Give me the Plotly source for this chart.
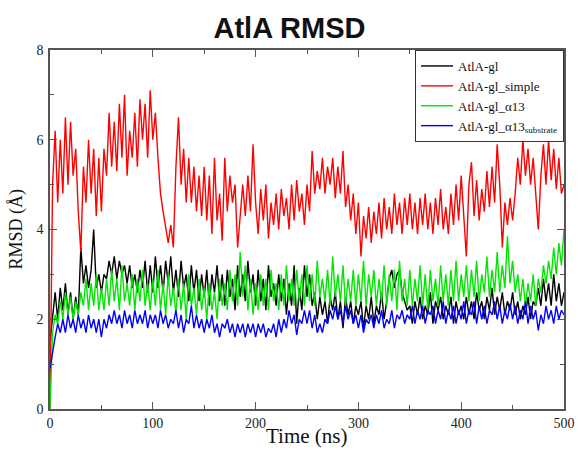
import plotly.graph_objects as go

time_ns = [i * 2.5 for i in range(201)]

rmsd_gl = [
    1.5, 2.1, 2.6, 2.0, 2.7, 2.2, 2.8, 2.1, 2.6, 2.0, 2.5, 2.1, 3.6, 2.8, 3.2, 2.7, 3.1, 4.0, 2.7, 3.0,
    2.6, 3.0, 2.9, 3.3, 3.0, 3.4, 2.9, 3.3, 3.0, 3.2, 2.8, 3.2, 2.7, 3.0, 2.6, 3.1, 2.7, 3.3, 2.6, 3.2,
    2.6, 3.4, 2.7, 3.2, 2.6, 3.3, 2.8, 3.4, 2.6, 3.1, 2.5, 3.3, 2.7, 3.0, 2.4, 3.2, 2.6, 3.1, 2.4, 3.0,
    2.5, 3.1, 2.3, 3.0, 2.6, 3.2, 2.4, 3.0, 2.3, 3.1, 2.5, 2.9, 2.2, 3.2, 2.5, 3.0, 2.4, 3.3, 2.6, 3.0,
    2.3, 3.1, 2.4, 2.9, 2.2, 3.2, 2.5, 2.8, 2.3, 3.0, 2.4, 2.9, 2.1, 2.8, 2.3, 3.2, 1.9, 2.7, 2.2, 3.2,
    2.5, 3.0, 2.3, 2.6, 2.0, 2.5, 2.1, 2.4, 1.9, 2.5, 2.2, 2.6, 2.0, 2.4, 1.8, 2.5, 2.1, 2.4, 1.9, 2.3,
    2.1, 2.4, 1.8, 2.3, 2.0, 2.5, 1.9, 2.3, 2.1, 2.6, 2.0, 2.4, 2.9, 3.1, 2.7, 3.0, 3.1, 2.6, 2.4, 2.2,
    2.3, 1.9, 2.4, 2.1, 2.5, 2.0, 2.3, 2.1, 2.6, 1.9, 2.4, 2.2, 2.5, 2.0, 2.3, 2.1, 2.5, 1.9, 2.4, 2.1,
    2.3, 2.0, 2.5, 2.1, 2.4, 2.0, 2.6, 2.2, 2.4, 2.0, 2.5, 2.2, 2.7, 2.1, 2.5, 2.2, 2.6, 2.1, 2.4, 2.2,
    2.6, 2.1, 2.4, 2.0, 2.3, 2.1, 2.5, 2.0, 2.4, 2.3, 2.7, 2.3, 2.9, 2.4, 2.8, 2.3, 3.0, 2.4, 2.8, 2.3, 2.6,
]

rmsd_gl_simple = [
    0.0, 5.0, 6.2, 4.6, 6.0, 4.8, 6.5, 5.0, 6.4, 5.2, 5.8, 4.4, 3.5, 5.4, 4.6, 6.0, 4.8, 5.8, 4.3, 5.6,
    4.4, 5.8, 5.2, 6.6, 5.4, 6.4, 5.3, 6.8, 5.6, 7.0, 5.2, 6.2, 5.6, 6.6, 5.4, 6.9, 6.0, 6.8, 5.6, 7.1,
    6.0, 6.6, 5.6, 4.8, 4.4, 4.0, 3.7, 4.1, 3.6, 5.4, 6.5, 5.0, 5.8, 4.6, 5.6, 4.6, 5.4, 4.4, 5.2, 4.3,
    5.4, 4.2, 5.2, 3.9, 5.6, 4.2, 4.8, 3.75, 5.6, 4.4, 5.2, 4.6, 5.0, 3.6, 4.4, 5.0, 4.3, 5.2, 4.4, 5.9,
    4.6, 3.9, 4.9, 4.2, 5.0, 3.8, 4.6, 4.1, 4.8, 4.0, 4.9, 4.3, 4.7, 4.0, 5.0, 4.2, 5.1, 4.4, 4.8, 4.1,
    5.0, 4.4, 5.75, 4.8, 5.3, 4.9, 5.6, 4.8, 5.4, 5.0, 5.6, 4.7, 5.4, 4.8, 5.75, 4.5, 5.0, 4.2, 4.8, 3.9,
    4.6, 3.4, 4.3, 3.8, 4.5, 3.7, 4.4, 3.9, 4.6, 3.8, 4.7, 4.0, 4.5, 3.9, 4.8, 4.1, 4.6, 3.9, 4.7, 4.1,
    4.8, 4.0, 4.6, 3.9, 4.7, 4.1, 4.8, 4.0, 4.6, 3.9, 4.7, 4.1, 4.9, 4.0, 4.5, 3.9, 4.8, 4.1, 5.0, 4.2,
    5.2, 4.4, 3.4, 5.0, 5.5, 4.3, 5.1, 4.2, 4.9, 4.4, 5.3, 4.5, 5.4, 4.6, 5.9, 5.0, 3.6, 4.6, 4.1, 4.7,
    4.2, 4.8, 5.6, 5.0, 6.0, 5.2, 5.8, 5.0, 5.6, 4.8, 4.0, 5.2, 5.9, 5.0, 6.0, 5.1, 5.8, 4.9, 5.6, 4.8, 5.0,
]

rmsd_gl_a13 = [
    0.0, 1.7, 2.1, 1.9, 2.4, 2.0, 2.6, 2.1, 2.5, 2.0, 2.4, 2.1, 2.6, 2.3, 2.9, 2.2, 2.8, 2.3, 3.0, 2.2,
    2.7, 2.2, 2.9, 2.3, 3.1, 2.4, 2.9, 2.2, 3.2, 2.4, 2.8, 2.3, 3.0, 2.2, 2.9, 2.4, 3.1, 2.3, 2.8, 2.2,
    2.9, 2.3, 3.1, 2.2, 2.8, 2.1, 3.0, 2.3, 2.7, 2.1, 2.9, 2.2, 2.8, 2.0, 3.0, 2.3, 2.7, 2.1, 2.9, 2.2,
    2.7, 2.0, 2.8, 2.2, 2.6, 2.0, 2.9, 2.3, 2.8, 2.2, 3.1, 2.4, 3.0, 2.3, 3.5, 2.5, 3.2, 2.2, 2.9, 2.1,
    2.8, 2.2, 3.0, 2.3, 2.9, 2.2, 3.1, 2.4, 2.8, 2.2, 3.0, 2.3, 3.2, 2.4, 2.9, 2.3, 3.1, 2.4, 3.0, 2.3,
    3.2, 2.4, 3.0, 2.3, 3.3, 2.5, 2.9, 2.4, 3.1, 2.3, 3.4, 2.5, 3.0, 2.4, 3.2, 2.3, 2.9, 2.4, 3.1, 2.3,
    3.0, 2.4, 3.3, 2.3, 3.0, 2.5, 3.1, 2.3, 2.9, 2.4, 3.2, 2.3, 3.0, 2.4, 3.1, 2.2, 3.3, 2.4, 2.9, 2.3,
    3.1, 2.3, 2.9, 2.4, 3.2, 2.3, 3.0, 2.2, 3.1, 2.4, 2.9, 2.3, 3.2, 2.4, 3.0, 2.3, 3.1, 2.4, 3.3, 2.4,
    3.0, 2.5, 3.2, 2.4, 3.1, 2.5, 3.3, 2.4, 3.0, 2.6, 3.4, 2.5, 3.1, 2.6, 3.5, 2.6, 3.2, 2.7, 3.85, 2.8,
    3.3, 2.6, 3.0, 2.4, 2.9, 2.3, 2.8, 2.4, 3.0, 2.3, 2.9, 2.6, 3.2, 2.8, 3.3, 2.9, 3.6, 3.0, 3.7, 3.2, 4.0,
]

rmsd_gl_a13_substrate = [
    0.9, 1.3, 1.6, 1.9, 1.7, 2.0, 1.7, 2.1, 1.8, 2.0, 1.7, 2.1, 1.8, 2.0, 1.7, 2.1, 1.8, 2.0, 1.7, 2.0,
    1.6, 2.0, 1.8, 2.1, 1.9, 2.2, 1.9, 2.1, 1.8, 2.2, 1.9, 2.1, 1.8, 2.2, 1.9, 2.1, 1.9, 2.2, 1.8, 2.1,
    1.9, 2.1, 1.8, 2.2, 1.9, 2.1, 1.8, 2.0, 1.9, 2.2, 1.8, 2.1, 1.7, 2.0, 1.9, 2.3, 1.8, 2.1, 1.8, 2.0,
    1.7, 2.0, 1.8, 2.1, 1.7, 1.9, 1.6, 1.9, 1.8, 2.0, 1.7, 1.9, 1.6, 1.9, 1.7, 1.9, 1.6, 1.9, 1.7, 1.9,
    1.6, 1.9, 1.7, 1.9, 1.6, 1.8, 1.7, 1.9, 1.6, 2.0, 1.7, 2.0, 1.8, 2.2, 1.9, 2.1, 1.65, 2.0, 1.9, 2.2,
    1.9, 2.2, 1.8, 2.1, 1.7, 1.9, 1.7, 2.0, 1.9, 2.2, 2.0, 2.3, 2.0, 2.2, 1.9, 2.3, 2.0, 2.2, 1.9, 2.1,
    1.8, 2.1, 1.7, 2.0, 1.9, 2.1, 1.8, 2.1, 1.9, 2.2, 1.8, 2.0, 1.9, 2.2, 1.8, 2.1, 2.0, 2.2, 1.9, 2.1,
    2.0, 2.3, 1.9, 2.2, 2.0, 2.3, 1.9, 2.2, 2.1, 2.3, 1.9, 2.2, 2.0, 2.4, 1.9, 2.2, 2.0, 2.3, 1.9, 2.2,
    2.0, 2.4, 1.9, 2.2, 2.1, 2.4, 1.9, 2.3, 2.0, 2.3, 1.9, 2.2, 2.1, 2.4, 2.0, 2.3, 1.9, 2.2, 2.0, 2.35,
    2.0, 2.3, 1.9, 2.2, 2.0, 2.4, 1.9, 2.3, 2.0, 2.2, 1.75, 2.1, 1.9, 2.3, 2.0, 2.2, 1.9, 2.3, 2.0, 2.2, 2.1,
]

series_names = ["AtlA-gl", "AtlA-gl_simple", "AtlA-gl_α13", "AtlA-gl_α13<sub>substrate</sub>"]
series_values = [rmsd_gl, rmsd_gl_simple, rmsd_gl_a13, rmsd_gl_a13_substrate]
series_colors = ["#000000", "#ff0000", "#00e600", "#0000ff"]

x_tick_vals = [0, 100, 200, 300, 400, 500]
y_tick_vals = [0, 2, 4, 6, 8]
x_title = "Time (ns)"
y_title = "RMSD (Å)"
chart_title = "AtlA RMSD"

serif = "Liberation Serif, Times New Roman, serif"

fig = go.Figure()
for name, vals, col in zip(series_names, series_values, series_colors):
    fig.add_trace(go.Scatter(x=time_ns, y=vals, mode="lines", name=name,
                             line=dict(color=col, width=1.4)))

axis_common = dict(
    showline=True, linecolor="#555555", linewidth=1.5, mirror="allticks",
    ticks="inside", ticklen=7, tickwidth=1.2, tickcolor="#555555",
    showgrid=False, zeroline=False, automargin=False,
    tickfont=dict(family=serif, size=14, color="#222222"),
)

fig.update_xaxes(range=[0, 500], tickvals=x_tick_vals,
                 minor=dict(ticks="inside", ticklen=4, tickcolor="#555555", dtick=50, tick0=0),
                 **axis_common)
fig.update_yaxes(range=[0, 8], tickvals=y_tick_vals, ticklabelstandoff=2,
                 minor=dict(ticks="inside", ticklen=4, tickcolor="#555555", dtick=1, tick0=0),
                 **axis_common)

fig.add_annotation(text=x_title, xref="paper", yref="paper", x=0.5, y=-0.075,
                   xanchor="center", yanchor="middle", showarrow=False,
                   font=dict(family=serif, size=21, color="#111111"))
fig.add_annotation(text=y_title, xref="paper", yref="paper", x=-0.066, y=0.5,
                   xanchor="center", yanchor="middle", showarrow=False, textangle=-90,
                   font=dict(family=serif, size=18, color="#111111"))

fig.update_layout(
    width=579, height=453,
    margin=dict(l=50, r=15, t=50, b=44),
    paper_bgcolor="white", plot_bgcolor="white",
    title=dict(text="<b>" + chart_title + "</b>", x=0.5, xanchor="center", y=0.962, yanchor="top",
               font=dict(family="Liberation Sans, Arial, sans-serif", size=29, color="#111111")),
    legend=dict(x=1, xanchor="right", y=1, yanchor="top",
                bgcolor="white", bordercolor="#333333", borderwidth=1,
                font=dict(family=serif, size=13, color="#111111"),
                tracegroupgap=0, itemwidth=32),
    showlegend=True,
)

fig.write_html("out.html", config={"displayModeBar": False},
               post_script="document.body.style.margin='0';document.body.style.overflow='hidden';")
